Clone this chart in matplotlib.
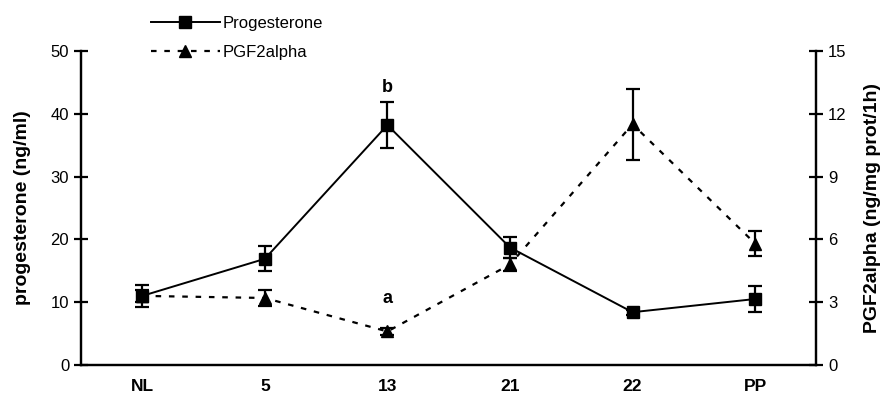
import matplotlib
matplotlib.use('Agg')
import matplotlib.pyplot as plt
from matplotlib.lines import Line2D

plt.rcParams['font.family'] = ['Liberation Sans', 'DejaVu Sans']

# data
groups = ['NL', '5', '13', '21', '22', 'PP']
prog = [11.0, 16.9, 38.2, 18.7, 8.4, 10.5]
prog_err = [1.8, 2.0, 3.6, 1.7, 0.4, 2.1]
pgf = [3.3, 3.2, 1.6, 4.8, 11.5, 5.8]
pgf_err = [0.3, 0.4, 0.15, 0.3, 1.7, 0.6]

x = list(range(len(groups)))
dash = (0, (2.5, 3.5))

fig = plt.figure(figsize=(8.85, 3.98), dpi=100)
ax = fig.add_axes([0.0915, 0.083, 0.831, 0.789])
ax2 = ax.twinx()

ax.errorbar(x, prog, yerr=prog_err, color='black', lw=1.4, marker='s', ms=9,
            capsize=5, elinewidth=1.6, capthick=1.6)
ax2.errorbar(x, pgf, yerr=pgf_err, color='black', lw=1.6, ls=dash,
             marker='^', ms=9, capsize=5, elinewidth=1.6, capthick=1.6)

ax.set_xlim(-0.5, 5.5)
ax.set_ylim(0, 50)
ax2.set_ylim(0, 15)
ax.set_yticks([0, 10, 20, 30, 40, 50])
ax2.set_yticks([0, 3, 6, 9, 12, 15])
ax.set_xticks(x)
ax.set_xticklabels(groups, fontweight='bold', fontsize=12.5)

for a in (ax, ax2):
    a.spines['top'].set_visible(False)
    for s in a.spines.values():
        s.set_linewidth(1.6)
    a.tick_params(axis='y', direction='inout', length=10, width=1.6, labelsize=12)
ax.tick_params(axis='x', length=0, pad=10)

ax.set_ylabel('progesterone (ng/ml)', fontweight='bold', fontsize=14, labelpad=14)
ax2.set_ylabel('PGF2alpha (ng/mg prot/1h)', fontweight='bold', fontsize=14, labelpad=12)

ax.text(2, 44.1, 'b', ha='center', va='center', fontweight='bold', fontsize=13)
ax.text(2, 10.6, 'a', ha='center', va='center', fontweight='bold', fontsize=13)

h1 = Line2D([], [], color='black', lw=1.4, marker='s', ms=9)
h2 = Line2D([], [], color='black', lw=1.6, ls=dash, marker='^', ms=9)
fig.legend(handles=[h1, h2], labels=['Progesterone', 'PGF2alpha'],
           loc='upper left', bbox_to_anchor=(0.154, 0.997),
           frameon=False, fontsize=12, handlelength=4.1, labelspacing=0.82,
           handletextpad=0.2)

plt.savefig('out.png', dpi=100)
